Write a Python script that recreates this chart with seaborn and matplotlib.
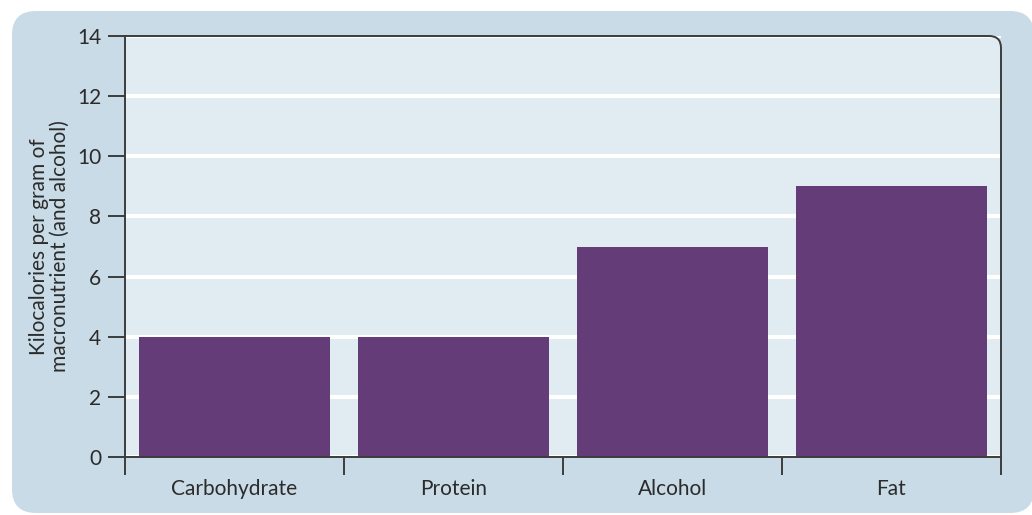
import matplotlib
matplotlib.use("Agg")
import matplotlib.pyplot as plt
from matplotlib.patches import FancyBboxPatch, PathPatch
from matplotlib.path import Path
import seaborn as sns
import pandas as pd

# Energy yield per gram
categories = ["Carbohydrate", "Protein", "Alcohol", "Fat"]
kcal_per_gram = [4, 4, 7, 9]
y_ticks = [0, 2, 4, 6, 8, 10, 12, 14]
y_label = "Kilocalories per gram of\nmacronutrient (and alcohol)"

BAR = "#643c78"
PANEL = "#c9dbe6"
PLOT_BG = "#e0ebf2"
INK = "#3c3c3c"
TEXT = "#2b2b2b"
FS = 15

sns.set_theme(style="white")
plt.rcParams["font.family"] = ["Lato", "DejaVu Sans"]

W, H = 1032, 515
fig = plt.figure(figsize=(W / 100, H / 100), dpi=100)
fig.patch.set_facecolor("white")

# rounded outer panel (inch coordinates keep the corners circular)
panel = FancyBboxPatch((0.12, 0.02), 10.22, 5.02,
                       boxstyle="round,pad=0,rounding_size=0.24",
                       transform=fig.dpi_scale_trans, facecolor=PANEL,
                       edgecolor="none", zorder=-10)
fig.patches.append(panel)

left, right, top, bottom = 125, 1001, 36, 457
ax = fig.add_axes([left / W, (H - bottom) / H, (right - left) / W, (bottom - top) / H])
ax.patch.set_visible(False)

df = pd.DataFrame({"category": categories, "kcal": kcal_per_gram})
sns.barplot(data=df, x="category", y="kcal", color=BAR, width=0.87,
            saturation=1, linewidth=0, ax=ax, zorder=3)

ax.set_xlim(-0.5, len(categories) - 0.5)
ax.set_ylim(0, 14)
ax.set_yticks(y_ticks)
ax.set_yticklabels([str(t) for t in y_ticks])

# frame with rounded top-right corner, filled with the plot background
rx = 12 / (right - left)
ry = 12 / (bottom - top)
verts = [(0, 0), (0, 1), (1 - rx, 1), (1, 1), (1, 1 - ry), (1, 0), (0, 0)]
codes = [Path.MOVETO, Path.LINETO, Path.LINETO, Path.CURVE3, Path.CURVE3,
         Path.LINETO, Path.CLOSEPOLY]
ax.add_patch(PathPatch(Path(verts, codes), transform=ax.transAxes,
                       facecolor=PLOT_BG, edgecolor="none", zorder=0, clip_on=False))
outline = Path(verts[1:6], [Path.MOVETO, Path.LINETO, Path.CURVE3, Path.CURVE3, Path.LINETO])
ax.add_patch(PathPatch(outline, transform=ax.transAxes, facecolor="none",
                       edgecolor=INK, linewidth=1.4, zorder=5, clip_on=False))

for s in ["top", "right"]:
    ax.spines[s].set_visible(False)
for s in ["left", "bottom"]:
    ax.spines[s].set_color(INK)
    ax.spines[s].set_linewidth(1.4)
    ax.spines[s].set_zorder(5)

ax.yaxis.grid(True, color="white", linewidth=3, zorder=1)
ax.set_axisbelow(True)

# category boundaries as major ticks, labels on minor ticks
n = len(categories)
ax.set_xticks([i - 0.5 for i in range(n + 1)])
ax.set_xticklabels([])
ax.set_xticks(list(range(n)), minor=True)
ax.set_xticklabels(categories, minor=True)
ax.tick_params(axis="x", which="major", direction="out", length=13, width=1.4,
               color=INK, bottom=True)
ax.tick_params(axis="x", which="minor", length=0, pad=16, labelsize=FS, labelcolor=TEXT)
ax.tick_params(axis="y", direction="out", length=12, width=1.4, color=INK,
               left=True, pad=5, labelsize=FS, labelcolor=TEXT)

ax.set_xlabel("")
ax.set_ylabel(y_label, fontsize=FS, color=TEXT, linespacing=1.05, labelpad=5)

fig.savefig("out.png", dpi=100, facecolor="white")
